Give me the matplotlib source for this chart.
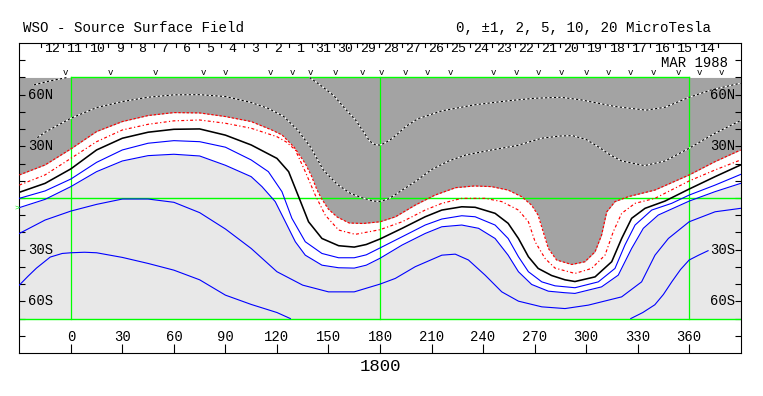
import matplotlib
matplotlib.use('Agg')
import matplotlib.pyplot as plt

plt.rcParams['font.family'] = ['Liberation Mono', 'DejaVu Sans']

# contour lines (longitude, latitude)
# +10 uT (upper dashed), two pieces
pos10a_lon = [-21.5, -12, -2]
pos10a_lat = [65.7, 68, 70]
pos10b_lon = [139, 146, 153, 160, 166, 170, 174, 177, 180, 183, 187, 190, 195, 202, 216,
              235, 255, 270, 285, 297, 317, 335, 346, 360, 373, 390]
pos10b_lat = [70, 65, 59.5, 51.5, 45, 39, 33, 31, 30.7, 32, 34.5, 37, 41.5, 46, 50.6,
              54.1, 56.5, 57.9, 58.5, 57, 53.1, 51, 52.7, 58.5, 62.8, 66.7]

# +5 uT (lower dashed)
pos5_lon = [-19.5, -15, 0, 15, 30, 45, 60, 75, 90, 104.5, 115, 124, 132, 139.4, 147, 155,
            162.7, 170, 176, 180, 185, 190, 200.5, 210, 220, 230, 245, 260, 274, 285, 292,
            300, 307, 314, 320.7, 334, 346, 360, 375, 390]
pos5_lat = [35, 38.2, 46.3, 52.5, 56, 58.5, 59.9, 60, 58.9, 55.6, 52, 47.3, 39.5, 29.8, 16.3, 8,
            2.7, 0, -1.8, -2, -0.5, 2.7, 9.5, 16.5, 21.5, 25, 27.9, 30.5, 34.7, 36, 36.2,
            34, 29.8, 25, 21.5, 18.8, 21.5, 28.9, 37.6, 45]

# +2 uT (outer red, edge of the positive region)
pos2_lon = [-30, -15, 0, 15, 30, 45, 60, 75, 90, 105, 117, 123, 130, 136.5, 140, 143, 145.7,
            150, 155, 162, 170, 180, 189, 200.5, 212, 224, 235, 245, 254.6, 262.4, 268.2,
            272, 275, 278, 282.8, 291.6, 299.3, 305.2, 309, 312, 316.8, 324.6, 340, 360,
            375, 390]
pos2_lat = [13.4, 19.2, 28.5, 38.6, 44.4, 47.9, 49.6, 49.4, 47.3, 44.4, 39.5, 36.6, 29.5, 20,
            13, 5.5, 0, -6.5, -11, -14.5, -14.8, -13.8, -10.9, -4.1, 1.7, 6, 7, 6.6, 4.6, 0.8,
            -4.1, -9.9, -19.6, -29.3, -36, -38.6, -37, -31.2, -21.5, -8, -2.1, 0.8, 4.6,
            13.4, 21.1, 27.9]

# +1 uT (inner red)
pos1_lon = [-30, -15, 0, 15, 30, 45, 60, 75, 90, 105, 120, 125.5, 130.7, 136.5, 142.3, 148.1,
            155.9, 165.6, 180, 192.9, 206.3, 216, 227.6, 241.2, 250.9, 260.6, 266.4, 270.3,
            276.1, 281.9, 293.5, 303.2, 311, 315.8, 320.7, 328.5, 340.1, 360, 375.1, 390]
pos1_lat = [7.5, 13.4, 23.0, 32.7, 39.5, 42.8, 44.8, 45.3, 43.4, 40.5, 35.6, 32.5, 27.9, 15.3,
            1.7, -9.9, -18.6, -21.1, -18.4, -13.8, -7, -3.1, -0.2, -0.2, -2.1, -7, -13.8,
            -25.4, -35.1, -40.7, -43.8, -40.9, -33.2, -19.6, -8.9, -3.1, -0.2, 9.9, 16.3, 22.1]

# neutral line
zero_lon = [-30, -15, 0, 15, 30, 45, 60, 75, 90, 105, 120, 126.8, 132.6, 138.4, 146.2, 155.9,
            165, 172, 180, 192.9, 206.3, 216, 227.6, 235.4, 247, 254.6, 260.6, 266.4, 272.1,
            279.9, 287.7, 293.5, 305.2, 314.9, 320.7, 326.5, 334.3, 345.9, 360, 375.1, 390]
zero_lat = [3.3, 8.5, 16.9, 27.9, 34.7, 38.2, 39.9, 40.1, 36.5, 30.8, 23.0, 15.3, 0.8, -13.8,
            -23.5, -27.7, -28.5, -27, -23.8, -17.6, -10.9, -7, -5.1, -5.4, -8.9, -14.7, -23.5,
            -34.1, -40.9, -45, -47.5, -48.5, -45.8, -37, -23.5, -11.8, -6, -1.8, 5.2, 12.4, 19.2]

# -1 uT
neg1_lon = [-30, -15, 0, 15, 30, 45, 60, 75, 90, 105, 115, 122.9, 128.7, 136.5, 146.2, 155.9,
            165, 172, 180, 192.9, 206.3, 216, 227.6, 235.4, 247, 254.6, 260.6, 266.4, 274.2,
            281.9, 293.5, 307.1, 316.8, 322.6, 328.5, 338.2, 349.8, 360, 375.1, 390]
neg1_lat = [-0.2, 4.1, 11.0, 20.7, 27.9, 31.8, 33.3, 32.7, 29.5, 22.1, 15.3, 3.7, -11.8, -25.4,
            -32.2, -34.7, -34.7, -33, -29, -22.5, -15.7, -12.2, -10.3, -10.9, -15.7, -23.5,
            -34.1, -42.8, -48.7, -51, -52.1, -48.7, -40.9, -27.3, -15.7, -7, -3.1, 1.7, 7.5, 13.7]

# -2 uT (edge of the negative region)
neg2_lon = [-30, -15, 0, 15, 30, 45, 60, 75, 90, 105, 111.3, 119, 124.9, 130.7, 136.5, 146.2,
            155.9, 165, 172, 180, 192.9, 206.3, 216, 227.6, 237.4, 247, 254.6, 260.6, 268.3,
            278, 287.7, 293.5, 309, 318.7, 326.5, 333.3, 342, 360, 375.1, 390]
neg2_lat = [-5.6, -0.8, 6.6, 15.3, 21.5, 24.6, 25.4, 24.4, 19, 12.4, 6.6, -2.1, -13.8, -25.4,
            -33.2, -39, -40.5, -40.7, -39, -35, -27.3, -20.6, -16.7, -15.7, -17.6, -23.5,
            -33.2, -42.8, -50.2, -54.1, -55, -55.4, -51.6, -44.8, -29.3, -17.6, -9.9, -1.8,
            3.7, 8.5]

# -5 uT
neg5_lon = [-30, -15, 0, 15, 30, 45, 60, 75, 90, 105, 120, 135, 150, 165, 180, 188.9, 200.5,
            216, 223.8, 231.5, 241.2, 250.9, 260.6, 274.2, 287.7, 301.3, 320.7, 332.3, 340.1,
            347.9, 360, 375.1, 390]
neg5_lat = [-20.6, -12.8, -7.6, -3.7, -0.6, -0.6, -2.5, -8.5, -18, -29.3, -42.8, -50.6, -54.5,
            -54.5, -50, -46.7, -39.9, -33.2, -32.6, -36, -44.8, -54.5, -59.9, -63.2, -64.2,
            -62.2, -57.4, -48.7, -33.2, -23.5, -13.8, -8, -6]

# -10 uT, two pieces
neg10a_lon = [-30, -25, -20, -12, -5, 0, 8, 15, 30, 45, 60, 75, 90, 105, 120, 127.8]
neg10a_lat = [-50.6, -45.5, -40.7, -34.3, -32.2, -31.8, -31.5, -31.8, -34.5, -38, -41.9, -47.5,
              -56.4, -61.8, -66.5, -70]
neg10b_lon = [326, 333, 340, 345, 350, 355, 360, 365.5, 371]
neg10b_lat = [-70, -66.5, -62, -56, -48.5, -41.5, -36, -33.2, -30.6]

# longitudes of the observations (v marks)
obs_lon = [-3.1, 23.1, 49.3, 77.2, 90, 116.1, 129, 139.3, 153.9, 169.5, 181.1, 194.6, 207.3,
           220.8, 246, 259.6, 272.2, 285.8, 300.3, 312.9, 325.5, 339.1, 353.6, 366.2, 378.9]

day_labels = ['12', '11', '10', '9', '8', '7', '6', '5', '4', '3', '2', '1', '31', '30', '29',
              '28', '27', '26', '25', '24', '23', '22', '21', '20', '19', '18', '17', '16',
              '15', '14']
day_start_lon = -17.6
deg_per_day = 13.15

lon_ticks = [0, 30, 60, 90, 120, 150, 180, 210, 240, 270, 300, 330, 360]
lat_label_pos = [60, 30, -30, -60]
lat_label_txt = ['60N', '30N', '30S', '60S']

dark = '#a3a3a3'
light = '#e8e8e8'
green = '#00ff00'

fig = plt.figure(figsize=(7.63, 3.96), dpi=100)
ax = fig.add_axes([19.3 / 763, 43 / 396, 721.4 / 763, 310 / 396])
ax.set_xlim(-30, 390)
ax.set_ylim(-90, 90)

# polarity shading
ax.fill_between(pos2_lon, pos2_lat, 70, color=dark, lw=0, zorder=1)
ax.fill_between(neg2_lon, -70, neg2_lat, color=light, lw=0, zorder=1)

# green frame / grid
ax.plot([-30, 390], [0, 0], color=green, lw=1, zorder=2)
ax.plot([-30, 390], [-70, -70], color=green, lw=1, zorder=2)
ax.plot([0, 360], [70, 70], color=green, lw=1, zorder=2)
for x in [0, 180, 360]:
    ax.plot([x, x], [-70, 70], color=green, lw=0.9, zorder=2)

# positive contours: black/white dashes
for lo, la in [(pos10a_lon, pos10a_lat), (pos10b_lon, pos10b_lat), (pos5_lon, pos5_lat)]:
    ax.plot(lo, la, color='white', lw=0.8, zorder=3)
    ax.plot(lo, la, color='black', lw=0.8, ls=(0, (2, 2)), zorder=3)

ax.plot(pos2_lon, pos2_lat, color='red', lw=0.85, ls=(0, (2, 1.5)), zorder=3)
ax.plot(pos1_lon, pos1_lat, color='red', lw=0.85, ls=(0, (2.5, 2, 1, 2)), zorder=3)
ax.plot(zero_lon, zero_lat, color='black', lw=1.15, zorder=3)
for lo, la in [(neg1_lon, neg1_lat), (neg2_lon, neg2_lat), (neg5_lon, neg5_lat),
               (neg10a_lon, neg10a_lat), (neg10b_lon, neg10b_lat)]:
    ax.plot(lo, la, color='blue', lw=0.8, zorder=3)

# axes ticks
ax.set_yticks(range(-80, 81, 10))
ax.tick_params(axis='y', left=True, right=True, direction='in', length=4.3, width=0.8,
               labelleft=False)
ax.set_xticks(lon_ticks)
ax.tick_params(axis='x', bottom=True, top=False, direction='in', length=6.5, width=0.8,
               labelbottom=False)
for s in ax.spines.values():
    s.set_linewidth(0.8)

for lon in lon_ticks:
    ax.text(lon, -80.8, str(lon), ha='center', va='center', fontsize=10)

for la, t in zip(lat_label_pos, lat_label_txt):
    ax.text(-24.8, la, t, ha='left', va='center', fontsize=10, zorder=4)
    ax.text(372.2, la, t, ha='left', va='center', fontsize=10, zorder=4)

# day ticks and numbers along the top
for k in range(len(day_labels) + 1):
    lon = day_start_lon + k * deg_per_day
    ax.plot([lon, lon], [90, 87.4], color='black', lw=0.8)
for k, d in enumerate(day_labels):
    lon = day_start_lon + (k + 0.5) * deg_per_day
    ax.text(lon, 86.3, d, ha='center', va='center', fontsize=9.5)

ax.text(382.5, 78.6, 'MAR 1988', ha='right', va='center', fontsize=10)

for lon in obs_lon:
    ax.text(lon, 72.6, 'v', ha='center', va='center', fontsize=6.5)

ax.text(-31.2, -5.8, '>', ha='center', va='center', fontsize=6, color=green, clip_on=False)

ax.text(180, -97.7, '1800', ha='center', va='center', fontsize=12.5, clip_on=False)

fig.text(23 / 763, 1 - 28 / 396, 'WSO - Source Surface Field', ha='left', va='center',
         fontsize=10.2)
fig.text(711 / 763, 1 - 28 / 396, '0, \u00b11, 2, 5, 10, 20 MicroTesla', ha='right',
         va='center', fontsize=10.2)

fig.savefig('out.png', dpi=100, facecolor='white')
